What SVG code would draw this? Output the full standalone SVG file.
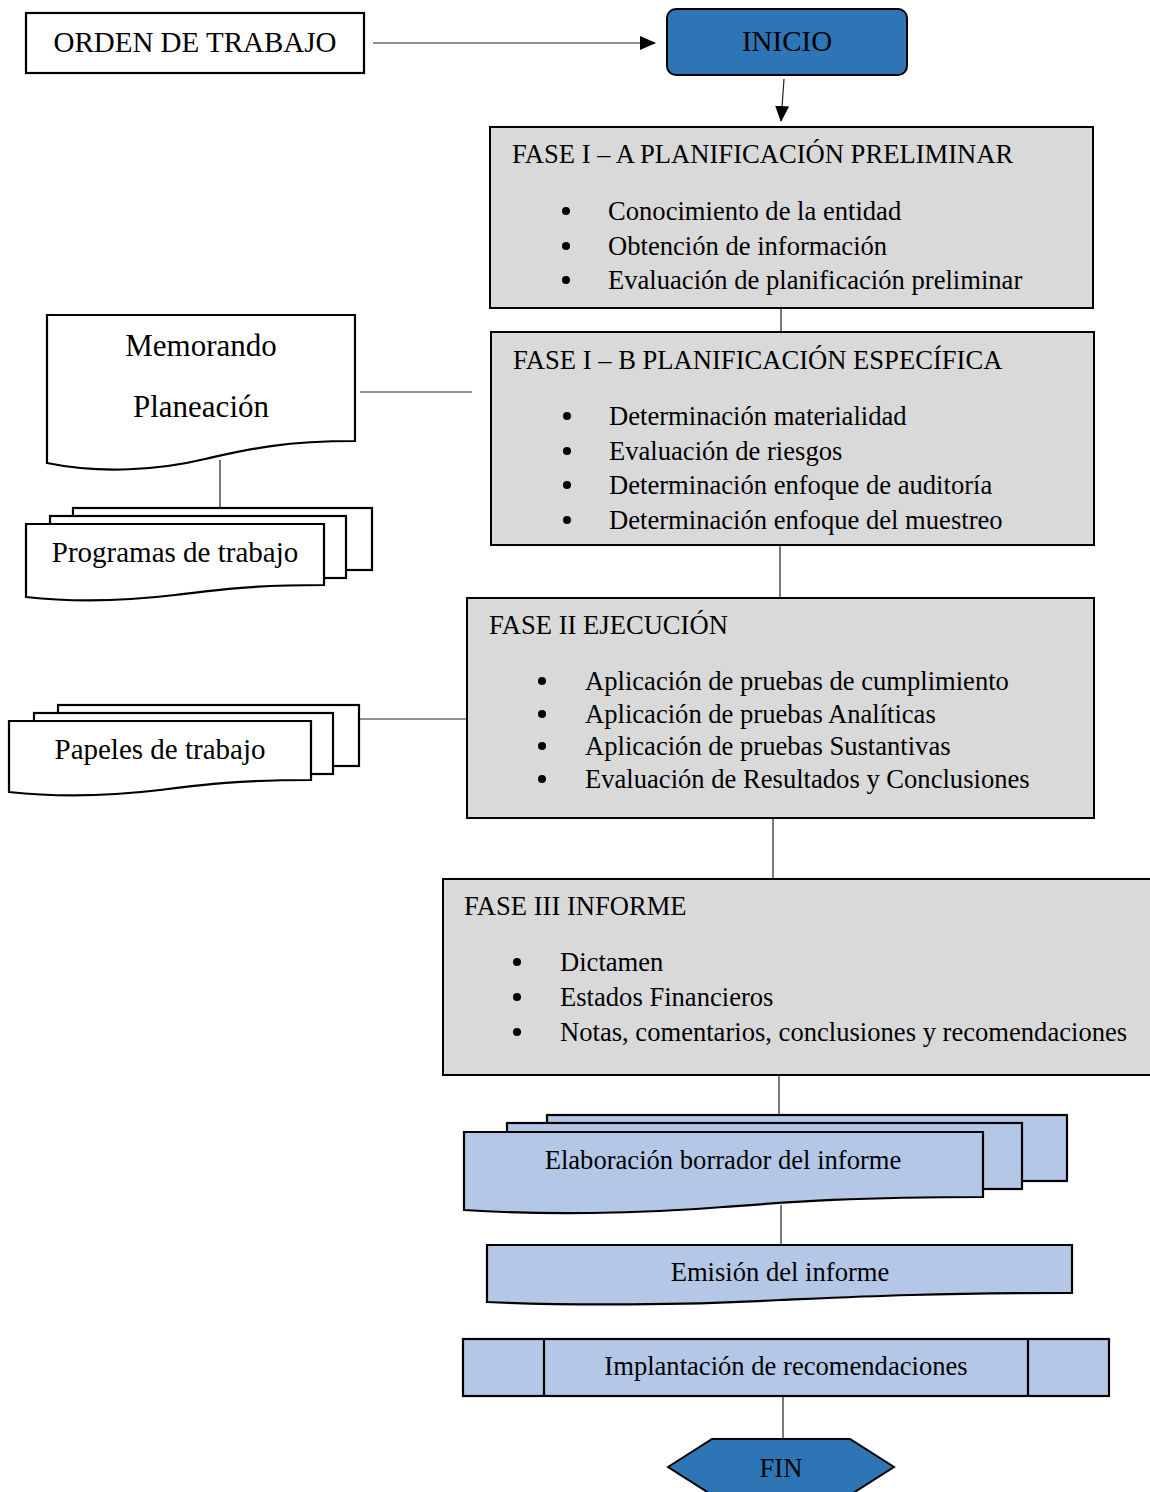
<svg xmlns="http://www.w3.org/2000/svg" width="1150" height="1492" viewBox="0 0 1150 1492">
<style>
text{font-family:"Liberation Serif","Times New Roman",serif;font-size:26.6px;fill:#000}
.c{text-anchor:middle}
.box{fill:#D9D9D9;stroke:#000;stroke-width:2}
.w{fill:#fff;stroke:#000;stroke-width:2.2}
.lb{fill:#B4C7E7;stroke:#000;stroke-width:2.2}
.db{fill:#2E75B6;stroke:#000;stroke-width:2}
.ln{stroke:#222;stroke-width:1.2;fill:none}
.big{font-size:29px}
</style>
<defs>
<marker id="ah2" markerWidth="16" markerHeight="14" refX="15" refY="7" orient="auto" markerUnits="userSpaceOnUse"><path d="M0,0 L16,7 L0,14 Z" fill="#000"/></marker>
</defs>
<g id="connectors">
<line class="ln" x1="373" y1="43" x2="655" y2="43" marker-end="url(#ah2)"/>
<line class="ln" x1="784" y1="79" x2="781" y2="121" marker-end="url(#ah2)"/>
<line class="ln" x1="781" y1="308" x2="781" y2="333"/>
<line class="ln" x1="780" y1="545" x2="780" y2="598"/>
<line class="ln" x1="773" y1="818" x2="773" y2="879"/>
<line class="ln" x1="779" y1="1075" x2="779" y2="1115"/>
<line class="ln" x1="781" y1="1205" x2="781" y2="1245"/>
<line class="ln" x1="783" y1="1396" x2="783" y2="1439"/>
<line class="ln" x1="360" y1="392" x2="472" y2="392"/>
<line class="ln" x1="220" y1="460" x2="220" y2="508"/>
<line class="ln" x1="357" y1="719" x2="467" y2="719"/>
</g>
<g id="orden">
<rect class="w" x="26" y="13" width="338" height="60"/>
<text class="c big" x="195" y="52">ORDEN DE TRABAJO</text>
</g>
<g id="inicio">
<rect class="db" x="667" y="9" width="240" height="66" rx="9"/>
<text class="c big" x="787" y="51">INICIO</text>
</g>
<g id="fase1a">
<rect class="box" x="490" y="127" width="603" height="181"/>
<text x="512" y="163">FASE I – A PLANIFICACIÓN PRELIMINAR</text>
<circle cx="566" cy="211" r="4"/><text x="608" y="220">Conocimiento de la entidad</text>
<circle cx="566" cy="246" r="4"/><text x="608" y="255">Obtención de información</text>
<circle cx="566" cy="280" r="4"/><text x="608" y="289">Evaluación de planificación preliminar</text>
</g>
<g id="fase1b">
<rect class="box" x="491" y="332" width="603" height="213"/>
<text x="513" y="369">FASE I – B PLANIFICACIÓN ESPECÍFICA</text>
<circle cx="567" cy="416" r="4"/><text x="609" y="425">Determinación materialidad</text>
<circle cx="567" cy="451" r="4"/><text x="609" y="460">Evaluación de riesgos</text>
<circle cx="567" cy="485" r="4"/><text x="609" y="494">Determinación enfoque de auditoría</text>
<circle cx="567" cy="520" r="4"/><text x="609" y="529">Determinación enfoque del muestreo</text>
</g>
<g id="fase2">
<rect class="box" x="467" y="598" width="627" height="220"/>
<text x="489" y="634">FASE II EJECUCIÓN</text>
<circle cx="542" cy="681" r="4"/><text x="585" y="690">Aplicación de pruebas de cumplimiento</text>
<circle cx="542" cy="714" r="4"/><text x="585" y="723">Aplicación de pruebas Analíticas</text>
<circle cx="542" cy="746" r="4"/><text x="585" y="755">Aplicación de pruebas Sustantivas</text>
<circle cx="542" cy="779" r="4"/><text x="585" y="788">Evaluación de Resultados y Conclusiones</text>
</g>
<g id="fase3">
<rect class="box" x="443" y="879" width="720" height="196"/>
<text x="464" y="915">FASE III INFORME</text>
<circle cx="517" cy="962" r="4"/><text x="560" y="971">Dictamen</text>
<circle cx="517" cy="997" r="4"/><text x="560" y="1006">Estados Financieros</text>
<circle cx="517" cy="1032" r="4"/><text x="560" y="1041">Notas, comentarios, conclusiones y recomendaciones</text>
</g>
<g id="memorando">
<path class="w" d="M47,315 H355 V441 C280,441 245,450 205,459 C160,470 100,474 47,463 Z"/>
<text class="c" x="201" y="356" style="font-size:31px">Memorando</text>
<text class="c" x="201" y="417" style="font-size:31px">Planeación</text>
</g>
<g id="programas">
<rect class="w" x="73" y="508" width="299" height="62"/>
<rect class="w" x="50" y="516" width="296" height="62"/>
<path class="w" d="M26,524 H324 V585 C250,585 215,590 175,595 C125,601 70,602 26,597 Z"/>
<text class="c" x="175" y="562" style="font-size:29px">Programas de trabajo</text>
</g>
<g id="papeles">
<rect class="w" x="58" y="705" width="301" height="61"/>
<rect class="w" x="34" y="713" width="299" height="61"/>
<path class="w" d="M9,721 H311 V780 C236,780 200,785 160,790 C110,796 55,797 9,792 Z"/>
<text class="c" x="160" y="759" style="font-size:29px">Papeles de trabajo</text>
</g>
<g id="elaboracion">
<rect class="lb" x="547" y="1115" width="520" height="66"/>
<rect class="lb" x="507" y="1123" width="515" height="66"/>
<path class="lb" d="M464,1132 H983 V1197 C853,1197 790,1202 723,1207 C640,1214 540,1215 464,1210 Z"/>
<text class="c" x="723" y="1169">Elaboración borrador del informe</text>
</g>
<g id="emision">
<path class="lb" d="M487,1245 H1072 V1293 C925,1293 850,1297 780,1300 C690,1305 570,1306 487,1302 Z"/>
<text class="c" x="780" y="1281">Emisión del informe</text>
</g>
<g id="implantacion">
<rect class="lb" x="463" y="1339" width="646" height="57"/>
<line x1="544" y1="1339" x2="544" y2="1396" stroke="#000" stroke-width="2.2"/>
<line x1="1028" y1="1339" x2="1028" y2="1396" stroke="#000" stroke-width="2.2"/>
<text class="c" x="786" y="1375">Implantación de recomendaciones</text>
</g>
<g id="fin">
<polygon class="db" points="668,1467 712,1439 850,1439 894,1467 850,1495 712,1495"/>
<text class="c" x="781" y="1477">FIN</text>
</g>
</svg>
